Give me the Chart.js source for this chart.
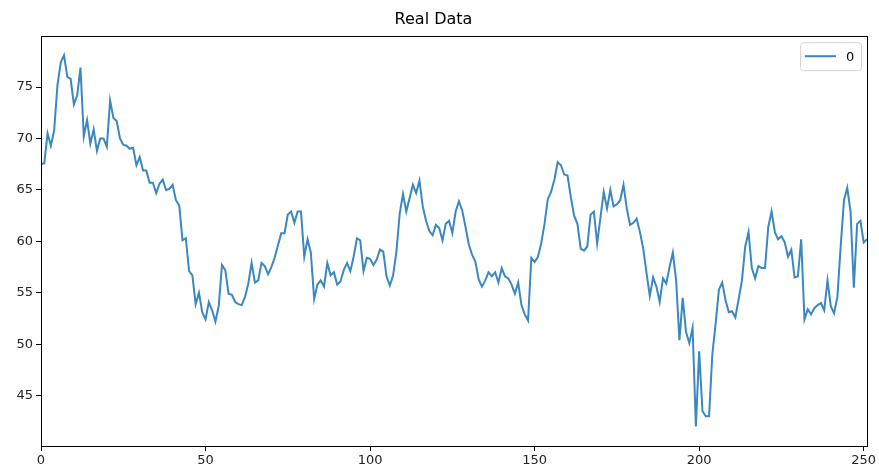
<!DOCTYPE html>
<html>
<head>
<meta charset="utf-8">
<script src="https://cdn.jsdelivr.net/npm/chart.js@4/dist/chart.umd.min.js"></script>
<style>
    body { margin: 0; background: #fff; }
</style>
</head>
<body>
<canvas id="chart" width="879" height="468"></canvas>
<script>
// values, index 0..251
let values = [
    67.5, 67.6, 70.5, 69.3, 70.8, 75.2, 77.4, 78.1, 76.0, 75.8,
    73.3, 74.2, 76.9, 70.2, 71.8, 69.5, 70.9, 68.8, 70.0, 70.0,
    69.2, 73.7, 72.0, 71.7, 70.0, 69.4, 69.3, 69.0, 69.1, 67.4,
    68.2, 66.9, 66.9, 65.7, 65.7, 64.7, 65.6, 66.0, 65.0, 65.1,
    65.5, 64.0, 63.5, 60.1, 60.3, 57.1, 56.7, 53.9, 55.0, 53.1,
    52.4, 54.1, 53.3, 52.2, 53.7, 57.7, 57.2, 54.9, 54.8, 54.1,
    53.9, 53.8, 54.6, 55.9, 57.9, 56.0, 56.2, 57.9, 57.6, 56.8,
    57.5, 58.4, 59.6, 60.8, 60.8, 62.6, 62.9, 61.8, 62.9, 62.9,
    58.5, 60.2, 58.9, 54.4, 55.8, 56.2, 55.6, 57.9, 56.7, 57.0,
    55.8, 56.1, 57.2, 57.9, 57.1, 58.5, 60.3, 60.1, 57.1, 58.4,
    58.3, 57.7, 58.2, 59.2, 59.0, 56.6, 55.7, 56.7, 59.0, 62.7,
    64.6, 62.9, 64.2, 65.5, 64.7, 65.9, 63.4, 62.0, 61.0, 60.6,
    61.6, 61.3, 60.1, 61.7, 62.0, 60.8, 62.9, 63.9, 63.0, 61.4,
    59.7, 58.7, 58.0, 56.3, 55.6, 56.2, 57.0, 56.6, 57.0, 56.0,
    57.4, 56.6, 56.4, 55.8, 54.9, 56.0, 53.8, 52.9, 52.3, 58.4,
    58.0, 58.5, 59.8, 61.7, 64.1, 64.8, 66.0, 67.7, 67.4, 66.5,
    66.4, 64.3, 62.5, 61.7, 59.3, 59.1, 59.5, 62.6, 62.9, 59.8,
    62.3, 64.8, 63.2, 65.0, 63.4, 63.6, 64.0, 65.5, 63.2, 61.6,
    61.8, 62.2, 60.9, 59.3, 56.9, 54.7, 56.5, 55.6, 54.1, 56.4,
    55.9, 57.5, 58.9, 56.2, 50.4, 54.5, 51.2, 50.1, 51.6, 42.0,
    49.3, 43.5, 43.0, 43.0, 49.0, 52.0, 55.3, 56.0, 54.3, 53.1,
    53.2, 52.6, 54.4, 56.2, 59.5, 60.9, 57.4, 56.4, 57.6, 57.4,
    57.4, 61.4, 62.9, 60.9, 60.2, 60.5, 59.9, 58.5, 59.2, 56.5,
    56.6, 60.2, 52.4, 53.4, 52.9, 53.5, 53.8, 54.0, 53.3, 56.2,
    53.7, 53.0, 54.6, 59.5, 64.0, 65.2, 62.9, 55.5, 61.7, 62.0,
    59.9, 60.2
]
let seriesName = "0"
let xTicks = [0, 50, 100, 150, 200, 250]
let yTicks = [45, 50, 55, 60, 65, 70, 75]

const lineColor = '#3a88bf'

function buildPoints(arr){
    let pts = []
    arr.forEach((v, i) => {
        pts.push({x: i, y: v})
    })
    return pts
}

// top and right spines, matplotlib style box
const frame = {
    id: 'frame',
    afterDraw(chart){
        let a = chart.chartArea
        let ctx = chart.ctx
        ctx.save()
        ctx.strokeStyle = '#000'
        ctx.lineWidth = 1
        ctx.strokeRect(Math.round(a.left) + 0.5, Math.round(a.top) + 0.5,
            Math.round(a.right - a.left), Math.round(a.bottom - a.top))
        ctx.restore()
    }
}

// legend box in the upper right corner of the plot
const boxLegend = {
    id: 'boxLegend',
    afterDraw(chart){
        let a = chart.chartArea
        let ctx = chart.ctx
        let ds = chart.data.datasets[0]
        let w = 61, h = 28
        let x = a.right - 6 - w, y = a.top + 6
        ctx.save()
        ctx.beginPath()
        ctx.roundRect(x + 0.5, y + 0.5, w, h, 3)
        ctx.fillStyle = 'rgba(255,255,255,0.8)'
        ctx.fill()
        ctx.strokeStyle = '#d4d4d4'
        ctx.lineWidth = 1
        ctx.stroke()
        ctx.beginPath()
        ctx.moveTo(x + 5, y + h / 2)
        ctx.lineTo(x + 36, y + h / 2)
        ctx.strokeStyle = ds.borderColor
        ctx.lineWidth = 2
        ctx.stroke()
        ctx.fillStyle = '#000'
        ctx.font = '13px "DejaVu Sans"'
        ctx.textBaseline = 'middle'
        ctx.fillText(ds.label, x + 46, y + h / 2 + 1)
        ctx.restore()
    }
}

new Chart(document.getElementById('chart').getContext('2d'), {
    type: 'line',
    data: {
        datasets: [{
            label: seriesName,
            data: buildPoints(values),
            borderColor: lineColor,
            borderWidth: 2,
            pointRadius: 0,
            tension: 0,
            fill: false
        }]
    },
    options: {
        responsive: false,
        animation: false,
        devicePixelRatio: 1,
        layout: { padding: { left: 0, right: 12, top: 0, bottom: 0 } },
        plugins: {
            legend: { display: false },
            tooltip: { enabled: false },
            title: {
                display: true,
                text: 'Real Data',
                color: '#000',
                font: { family: 'DejaVu Sans', size: 16, weight: 'normal' },
                padding: { top: 10, bottom: 7 }
            }
        },
        scales: {
            x: {
                type: 'linear',
                min: 0,
                max: 251,
                afterBuildTicks: s => { s.ticks = xTicks.map(v => ({value: v})) },
                afterFit: s => { s.height = 22 },
                grid: { display: true, drawOnChartArea: false, drawTicks: true, tickLength: 5, color: '#000' },
                border: { display: true, color: '#000', width: 1 },
                ticks: {
                    color: '#222',
                    padding: 2,
                    maxRotation: 0,
                    font: { family: 'DejaVu Sans', size: 13 }
                }
            },
            y: {
                min: 40.1,
                max: 79.95,
                afterBuildTicks: s => { s.ticks = yTicks.map(v => ({value: v})) },
                afterFit: s => { s.width = 41 },
                grid: { display: true, drawOnChartArea: false, drawTicks: true, tickLength: 5, color: '#000' },
                border: { display: true, color: '#000', width: 1 },
                ticks: {
                    color: '#222',
                    padding: 3,
                    font: { family: 'DejaVu Sans', size: 13 }
                }
            }
        }
    },
    plugins: [frame, boxLegend]
})
</script>
</body>
</html>
